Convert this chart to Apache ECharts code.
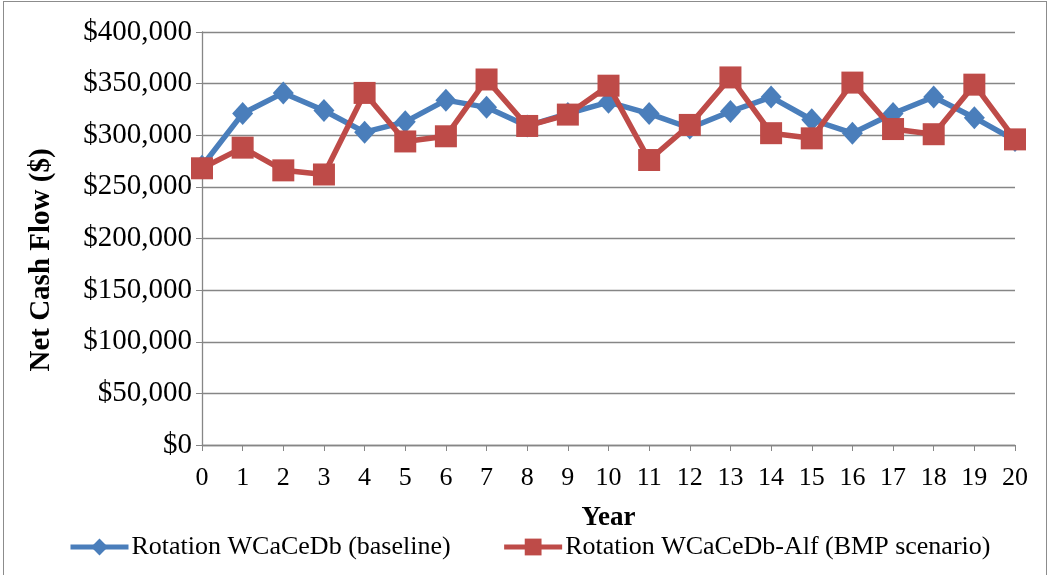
<!DOCTYPE html>
<html>
<head>
<meta charset="utf-8">
<script src="https://cdn.jsdelivr.net/npm/echarts@6/dist/echarts.min.js"></script>
<style>
  html, body { margin: 0; padding: 0; background: #fff; overflow: hidden; }
  #frame {
    position: absolute; left: 3px; top: 1px; width: 1044px; height: 600px;
    border: 1px solid #8c8c8c; box-sizing: border-box;
  }
  #chart { position: absolute; left: 0; top: 0; width: 1050px; height: 575px; }
</style>
</head>
<body>
<div id="frame"></div>
<div id="chart"></div>
<script>
  // 年份
  var years = ['0', '1', '2', '3', '4', '5', '6', '7', '8', '9', '10',
    '11', '12', '13', '14', '15', '16', '17', '18', '19', '20']
  // 基准轮作
  var baseline = [270000, 321000, 341000, 324000, 303000, 313000, 334000, 327000, 309000, 321000, 332000,
    321000, 307000, 323000, 337000, 315000, 302000, 321000, 337000, 317000, 295000]
  // BMP 情景
  var bmp = [268000, 288000, 266000, 262000, 341000, 294000, 299000, 354000, 309000, 320000, 348000,
    276000, 310000, 356000, 302000, 297000, 351000, 306000, 301000, 349000, 296000]

  var font = 'Liberation Serif, Times New Roman, serif'
  var gray = '#868686'

  var chart = echarts.init(document.getElementById('chart'))
  var options = {
    animation: false,
    textStyle: { fontFamily: font },
    legend: {
      top: 534,
      left: 68,
      padding: 0,
      itemGap: 51,
      itemWidth: 58,
      itemHeight: 21,
      lineStyle: { width: 5 },
      textStyle: { fontSize: 26, color: '#000', fontFamily: font, padding: [0, 0, 0, -2] },
      data: ['Rotation WCaCeDb (baseline)', 'Rotation WCaCeDb-Alf (BMP scenario)']
    },
    graphic: [
      {
        type: 'text',
        x: 42,
        y: 260,
        rotation: Math.PI / 2,
        style: {
          text: 'Net Cash Flow ($)',
          fontSize: 29,
          fontWeight: 'bold',
          fontFamily: font,
          fill: '#000',
          align: 'center',
          verticalAlign: 'middle'
        }
      }
    ],
    grid: {
      left: 202,
      right: 35,
      top: 32,
      bottom: 130,
      containLabel: false
    },
    xAxis: {
      type: 'category',
      data: years,
      boundaryGap: false,
      name: 'Year',
      nameLocation: 'middle',
      nameGap: 60,
      nameTextStyle: { fontSize: 27, fontWeight: 'bold', color: '#000', fontFamily: font },
      axisLine: { lineStyle: { color: gray, width: 1.3 } },
      axisTick: { show: true, length: 6, lineStyle: { color: gray } },
      axisLabel: { fontSize: 26, color: '#000', margin: 20, fontFamily: font }
    },
    yAxis: [
      {
        type: 'value',
        min: 0,
        max: 400000,
        interval: 50000,
        axisLine: { show: true, lineStyle: { color: gray, width: 1.3 } },
        axisTick: { show: true, length: 6, lineStyle: { color: gray } },
        axisLabel: {
          fontSize: 29,
          color: '#000',
          margin: 10,
          fontFamily: font,
          formatter: function(v) {
            return '$' + v.toLocaleString('en-US')
          }
        },
        // 网格样式
        splitLine: { show: true, lineStyle: { color: gray, width: 1.3 } }
      },
      {
        // 只画向内的刻度，和外侧刻度组成十字刻度
        type: 'value',
        position: 'left',
        min: 0,
        max: 400000,
        interval: 50000,
        axisLine: { show: false },
        axisTick: { show: true, inside: true, length: 7, lineStyle: { color: gray } },
        axisLabel: { show: false },
        splitLine: { show: false }
      }
    ],
    series: [
      {
        name: 'Rotation WCaCeDb (baseline)',
        type: 'line',
        data: baseline,
        symbol: 'diamond',
        symbolSize: [21, 23],
        itemStyle: { color: '#4A7EBB' },
        lineStyle: { color: '#4A7EBB', width: 5.5 },
        z: 2
      },
      {
        name: 'Rotation WCaCeDb-Alf (BMP scenario)',
        type: 'line',
        data: bmp,
        symbol: 'rect',
        symbolSize: 22,
        itemStyle: { color: '#BE4B48' },
        lineStyle: { color: '#BE4B48', width: 5.5 },
        z: 3
      }
    ]
  }
  chart.setOption(options)
</script>
</body>
</html>
